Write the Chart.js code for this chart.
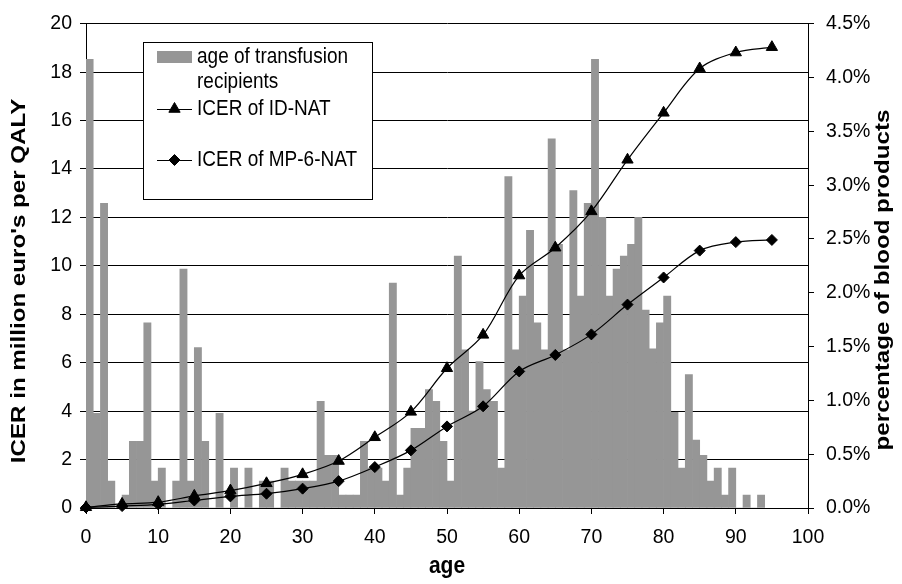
<!DOCTYPE html>
<html>
<head>
<meta charset="utf-8">
<title>ICER of NAT by age</title>
<script src="https://cdn.jsdelivr.net/npm/chart.js@4.4.1/dist/chart.umd.min.js"></script>
<style>
  html, body { margin: 0; padding: 0; background: #fff; }
  canvas { display: block; }
</style>
</head>
<body>
<canvas id="icerChart" width="902" height="584"></canvas>
<script>
// one bar per year of age, 0 .. 99
const barAges = ['0','1','2','3','4','5','6','7','8','9','10','11','12','13','14','15','16','17','18','19',
  '20','21','22','23','24','25','26','27','28','29','30','31','32','33','34','35','36','37','38','39',
  '40','41','42','43','44','45','46','47','48','49','50','51','52','53','54','55','56','57','58','59',
  '60','61','62','63','64','65','66','67','68','69','70','71','72','73','74','75','76','77','78','79',
  '80','81','82','83','84','85','86','87','88','89','90','91','92','93','94','95','96','97','98','99'];

// share of blood products per age of recipient (%)
const recipientShare = [
  4.17, 0.88, 2.83, 0.25, 0, 0.12, 0.62, 0.62, 1.72, 0.25,
  0.37, 0, 0.25, 2.22, 0.25, 1.49, 0.62, 0, 0.88, 0,
  0.37, 0, 0.37, 0, 0.25, 0.25, 0, 0.37, 0.25, 0.25,
  0.25, 0.25, 0.99, 0.49, 0.49, 0.12, 0.12, 0.12, 0.62, 0.37,
  0.37, 0.25, 2.09, 0.12, 0.37, 0.74, 0.74, 1.10, 0.99, 0.62,
  0.25, 2.34, 1.47, 0.90, 1.36, 1.10, 0.99, 0.37, 3.08, 1.47,
  1.97, 2.58, 1.72, 1.47, 3.43, 2.45, 1.47, 2.95, 1.97, 2.83,
  4.17, 2.70, 1.97, 2.22, 2.34, 2.45, 2.70, 1.84, 1.48, 1.72,
  1.97, 0.89, 0.37, 1.24, 0.63, 0.49, 0.25, 0.37, 0.12, 0.37,
  0, 0.12, 0, 0.12
];

// ages at which the ICER was computed
const markerAges = [0, 5, 10, 15, 20, 25, 30, 35, 40, 45, 50, 55, 60, 65, 70, 75, 80, 85, 90, 95];

// ICER in million euro per QALY
const icerIdNat = [0.03, 0.17, 0.24, 0.50, 0.72, 1.02, 1.39, 1.94, 2.92, 3.97,
  5.77, 7.15, 9.60, 10.75, 12.25, 14.38, 16.32, 18.15, 18.81, 19.03];
const icerMp6Nat = [0.02, 0.08, 0.15, 0.31, 0.48, 0.59, 0.80, 1.11, 1.69, 2.38,
  3.37, 4.20, 5.64, 6.32, 7.17, 8.40, 9.52, 10.63, 10.98, 11.07];

// axis ticks
const ageTicks = [0, 10, 20, 30, 40, 50, 60, 70, 80, 90, 100];
const icerTicks = [0, 2, 4, 6, 8, 10, 12, 14, 16, 18, 20];
const shareTicks = [0, 0.5, 1, 1.5, 2, 2.5, 3, 3.5, 4, 4.5];

const FONT = 'Arial, "Liberation Sans", Helvetica, sans-serif';
const BAR_GREY = '#969696';
const TEXT_STRETCH = 1.15;   // glyphs are a little taller than wide

Chart.defaults.font.family = FONT;
Chart.defaults.color = '#000';

function pointsOf(values) {
  return markerAges.map((age, i) => ({ x: age, y: values[i] }));
}

function useTicks(list) {
  return (scale) => { scale.ticks = list.map(v => ({ value: v })); };
}

function stretchedText(ctx, text, x, y, rot, sx, sy) {
  ctx.save();
  ctx.translate(x, y);
  ctx.rotate(rot);
  ctx.scale(sx, sy);
  ctx.fillText(text, 0, 0);
  ctx.restore();
}

// axis titles, drawn slightly stretched along their length
const axisTitles = {
  id: 'axisTitles',
  afterDraw(chart) {
    const { ctx, chartArea, scales } = chart;
    ctx.save();
    ctx.font = 'bold 21px ' + FONT;
    ctx.fillStyle = '#000';
    ctx.textAlign = 'center';
    ctx.textBaseline = 'middle';
    const midX = (chartArea.left + chartArea.right) / 2;
    stretchedText(ctx, scales.x.options.title.text, midX, 566, 0, 1, TEXT_STRETCH);
    stretchedText(ctx, scales.y.options.title.text, 19, 281, -Math.PI / 2, TEXT_STRETCH, 1);
    stretchedText(ctx, scales.yShare.options.title.text, 883, 280, -Math.PI / 2, TEXT_STRETCH, 1);
    ctx.restore();
  }
};

// Excel-style legend: white box with a border, long labels wrapped
const boxLegend = {
  id: 'boxLegend',
  afterDatasetsDraw(chart) {
    const { ctx } = chart;
    const box = { x: 143, y: 42, w: 229, h: 157 };
    const symX = 157, symW = 35, textX = 197;
    const rowY = [57, 109, 160];
    const lineGap = 25;

    ctx.save();
    ctx.fillStyle = '#fff';
    ctx.fillRect(box.x, box.y, box.w, box.h);
    ctx.strokeStyle = '#000';
    ctx.lineWidth = 1;
    ctx.strokeRect(box.x + 0.5, box.y + 0.5, box.w, box.h);

    ctx.font = '19px ' + FONT;
    ctx.textBaseline = 'middle';
    ctx.textAlign = 'left';
    const maxW = box.x + box.w - textX - 4;

    chart.data.datasets.forEach((ds, i) => {
      const y = rowY[i];
      if (ds.type === 'bar') {
        ctx.fillStyle = ds.backgroundColor;
        ctx.fillRect(symX, y - 6, symW, 12);
      } else {
        ctx.strokeStyle = ds.borderColor;
        ctx.lineWidth = ds.borderWidth;
        ctx.beginPath();
        ctx.moveTo(symX, y + 0.5);
        ctx.lineTo(symX + symW, y + 0.5);
        ctx.stroke();
        ctx.fillStyle = ds.pointBackgroundColor;
        ctx.strokeStyle = ds.pointBorderColor;
        ctx.lineWidth = ds.pointBorderWidth;
        Chart.helpers.drawPoint(ctx, {
          pointStyle: ds.pointStyle, radius: ds.pointRadius,
          rotation: 0, borderWidth: ds.pointBorderWidth
        }, symX + symW / 2, y);
      }

      // simple word wrap
      const words = ds.label.split(' ');
      const lines = [];
      let cur = '';
      words.forEach(w => {
        const t = cur ? cur + ' ' + w : w;
        if (ctx.measureText(t).width > maxW && cur) { lines.push(cur); cur = w; }
        else cur = t;
      });
      lines.push(cur);
      ctx.fillStyle = '#000';
      lines.forEach((ln, k) => stretchedText(ctx, ln, textX, y + k * lineGap, 0, 1, TEXT_STRETCH));
    });
    ctx.restore();
  }
};

new Chart(document.getElementById('icerChart'), {
  data: {
    datasets: [
      {
        type: 'bar',
        label: 'age of transfusion recipients',
        data: recipientShare,
        xAxisID: 'xBars',
        yAxisID: 'yShare',
        backgroundColor: BAR_GREY,
        borderWidth: 0,
        grouped: false,
        barThickness: 7.22,   // one full year of age
        order: 2
      },
      {
        type: 'line',
        label: 'ICER of ID-NAT',
        data: pointsOf(icerIdNat),
        xAxisID: 'x',
        yAxisID: 'y',
        borderColor: '#000',
        borderWidth: 1.2,
        tension: 0.33,
        pointStyle: 'triangle',
        pointRadius: 6.5,
        pointBackgroundColor: '#000',
        pointBorderColor: '#000',
        pointBorderWidth: 1,
        clip: false,
        order: 1
      },
      {
        type: 'line',
        label: 'ICER of MP-6-NAT',
        data: pointsOf(icerMp6Nat),
        xAxisID: 'x',
        yAxisID: 'y',
        borderColor: '#000',
        borderWidth: 1.2,
        tension: 0.33,
        pointStyle: 'rectRot',
        pointRadius: 5.5,
        pointBackgroundColor: '#000',
        pointBorderColor: '#000',
        pointBorderWidth: 1,
        clip: false,
        order: 1
      }
    ]
  },
  options: {
    responsive: false,
    animation: false,
    devicePixelRatio: 1,
    layout: { padding: { top: 22, left: 0, right: 0, bottom: 0 } },
    plugins: {
      legend: { display: false },
      tooltip: { enabled: false }
    },
    scales: {
      x: {
        type: 'linear',
        position: 'bottom',
        min: 0,
        max: 100,
        afterBuildTicks: useTicks(ageTicks),
        afterFit: (s) => { s.height = 76; },
        grid: { drawOnChartArea: false, drawTicks: true, tickLength: 6, color: '#000' },
        border: { color: '#000', width: 1 },
        ticks: { font: { size: 19.5 }, padding: 12, maxRotation: 0 },
        title: { display: false, text: 'age' }
      },
      xBars: {
        type: 'category',
        labels: barAges,
        offset: true,
        display: false
      },
      y: {
        type: 'linear',
        position: 'left',
        min: 0,
        max: 20,
        afterBuildTicks: useTicks(icerTicks),
        afterFit: (s) => { s.width = 86; },
        grid: { color: '#000', lineWidth: 1, tickLength: 6 },
        border: { color: '#000', width: 1 },
        ticks: { font: { size: 19.5 }, padding: 8 },
        title: { display: false, text: "ICER in million euro's per QALY" }
      },
      yShare: {
        type: 'linear',
        position: 'right',
        min: 0,
        max: 4.5,
        afterBuildTicks: useTicks(shareTicks),
        afterFit: (s) => { s.width = 94; },
        grid: { drawOnChartArea: false, drawTicks: true, tickLength: 6, color: '#000' },
        border: { color: '#000', width: 1 },
        ticks: {
          font: { size: 19.5 }, padding: 12,
          callback: (v) => v.toFixed(1) + '%'
        },
        title: { display: false, text: 'percentage of blood products' }
      }
    }
  },
  plugins: [boxLegend, axisTitles]
});
</script>
</body>
</html>
